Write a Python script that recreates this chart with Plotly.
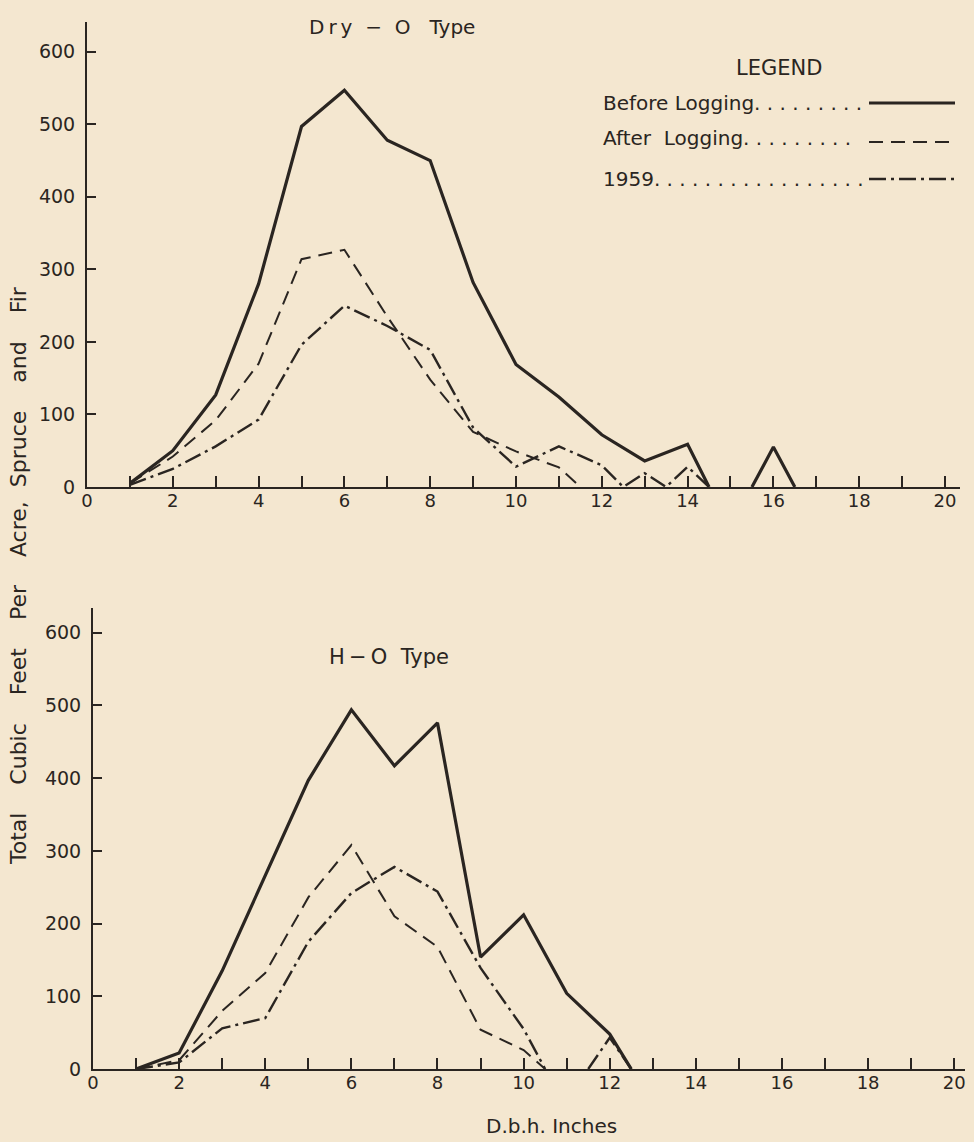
import plotly.graph_objects as go

# ---------------- Data ----------------
# Dry-O Type (top panel)
dry_before_x = [1, 2, 3, 4, 5, 6, 7, 8, 9, 10, 11, 12, 13, 14, 14.5, None, 15.5, 16, 16.5]
dry_before_y = [5, 50, 127, 280, 497, 547, 478, 450, 282, 169, 124, 72, 36, 59, 0, None, 0, 55, 0]
dry_after_x = [1, 2, 3, 4, 5, 6, 7, 8, 9, 10, 11, 11.5]
dry_after_y = [5, 42, 92, 170, 314, 327, 235, 148, 76, 49, 27, 0]
dry_1959_x = [1, 2, 3, 4, 5, 6, 7, 8, 9, 10, 11, 12, 12.5, 13, 13.5, 14, 14.5]
dry_1959_y = [3, 25, 56, 93, 196, 250, 222, 189, 82, 28, 56, 30, 0, 19, 0, 28, 0]

# H-O Type (bottom panel)
ho_before_x = [1, 2, 3, 4, 5, 6, 7, 8, 9, 10, 11, 12, 12.5]
ho_before_y = [0, 22, 135, 267, 397, 494, 417, 476, 154, 212, 104, 48, 0]
ho_after_x = [1, 2, 3, 4, 5, 6, 7, 8, 9, 10, 10.5]
ho_after_y = [0, 12, 80, 132, 236, 308, 210, 168, 54, 26, 0]
ho_1959_x = [1, 2, 3, 4, 5, 6, 7, 8, 9, 10, 10.5, None, 11.5, 12, 12.5]
ho_1959_y = [0, 9, 56, 70, 175, 242, 278, 244, 139, 55, 0, None, 0, 43, 0]

x_tickvals = [0, 2, 4, 6, 8, 10, 12, 14, 16, 18, 20]
y_tickvals = [0, 100, 200, 300, 400, 500, 600]

series_names = ["Before Logging", "After Logging", "1959"]

# ---------------- Style ----------------
INK = "#2a2521"
PAPER = "#f4e7d0"
FONT = "DejaVu Sans"
NB = "\u00a0"
TH = "\u2009"

styles = [
    dict(color=INK, width=3.2, dash="solid"),
    dict(color=INK, width=2.0, dash="14px,8px"),
    dict(color=INK, width=2.4, dash="17px,5px,3px,5px"),
]

fig = go.Figure()

top = [(dry_before_x, dry_before_y), (dry_after_x, dry_after_y), (dry_1959_x, dry_1959_y)]
bot = [(ho_before_x, ho_before_y), (ho_after_x, ho_after_y), (ho_1959_x, ho_1959_y)]

for (xs, ys), st, nm in zip(top, styles, series_names):
    fig.add_trace(go.Scatter(x=xs, y=ys, mode="lines", line=st, name=nm,
                             connectgaps=False, showlegend=False,
                             xaxis="x", yaxis="y"))
for (xs, ys), st, nm in zip(bot, styles, series_names):
    fig.add_trace(go.Scatter(x=xs, y=ys, mode="lines", line=st, name=nm,
                             connectgaps=False, showlegend=False,
                             xaxis="x2", yaxis="y2"))

W, H = 974, 1142


def px_x(p):
    return p / W


def px_y(p):
    return 1 - p / H


xcommon = dict(
    showgrid=False, zeroline=False, showline=True, linecolor=INK, linewidth=2,
    ticks="inside", ticklen=11, tickwidth=2, tickcolor=INK,
    tickvals=x_tickvals, ticktext=[str(v) for v in x_tickvals],
    minor=dict(dtick=1, tick0=0, ticks="inside", ticklen=11, tickwidth=2, tickcolor=INK),
    tickfont=dict(family=FONT, size=18, color=INK),
    ticklabelstandoff=-4,
    fixedrange=True, automargin=False,
)
ycommon = dict(
    showgrid=False, zeroline=False, showline=True, linecolor=INK, linewidth=2,
    ticks="inside", ticklen=9, tickwidth=2, tickcolor=INK,
    tickvals=y_tickvals, ticktext=[str(v) for v in y_tickvals],
    tickfont=dict(family=FONT, size=19, color=INK),
    ticklabelstandoff=6,
    fixedrange=True, automargin=False,
)

fig.update_layout(
    width=W, height=H,
    paper_bgcolor=PAPER, plot_bgcolor=PAPER,
    margin=dict(l=0, r=0, t=0, b=0, pad=0),
    showlegend=False,
    xaxis=dict(domain=[px_x(87), px_x(960)], range=[0, 20.35], anchor="y", **xcommon),
    yaxis=dict(domain=[px_y(487), px_y(22)], range=[0, 641], anchor="x", **ycommon),
    xaxis2=dict(domain=[px_x(93), px_x(965)], range=[0, 20.25], anchor="y2", **xcommon),
    yaxis2=dict(domain=[px_y(1069), px_y(608)], range=[0, 634], anchor="x2", **ycommon),
)


def text_ann(txt, x, y, size, xanchor="center", angle=0):
    return dict(text=txt, x=px_x(x), y=px_y(y), xref="paper", yref="paper",
                xanchor=xanchor, yanchor="middle", showarrow=False, textangle=angle,
                font=dict(family=FONT, size=size, color=INK))


ann = []
ann.append(text_ann(f"D{TH}r{TH}y{NB}{NB}−{NB}{NB}O{NB}{NB}{NB}Type", 392, 27, 20))
ann.append(text_ann(f"H{TH}−{TH}O{NB}{NB}Type", 389, 657, 21))
gap = NB * 4
ann.append(text_ann(gap.join(["Total", "Cubic", "Feet", "Per", f"Acre,{NB}{NB}Spruce", "and", "Fir"]),
                    18, 576, 22, angle=-90))
ann.append(text_ann("D.b.h. Inches", 551, 1126, 20))

# Legend (drawn like the original's lettered key)
ann.append(text_ann("LEGEND", 779, 68, 21))
legend_rows = [
    ("Before Logging" + ". " * 9, 103, 103),
    (f"After{NB}{NB}Logging" + ". " * 9, 138, 142),
    ("1959" + ". " * 17, 179, 179),
]
for (txt, ty, _) in legend_rows:
    ann.append(text_ann(txt.strip().replace(" ", NB), 601, ty, 20, xanchor="left"))

shapes = []
for st, (_, _, ly) in zip(styles, legend_rows):
    shapes.append(dict(type="line", xref="paper", yref="paper",
                       x0=px_x(869), x1=px_x(955), y0=px_y(ly), y1=px_y(ly),
                       line=dict(color=INK, width=st["width"], dash=st["dash"])))

fig.update_layout(annotations=ann, shapes=shapes)

fig.write_html("out.html", config={"displayModeBar": False},
               post_script="document.body.style.margin='0px';document.body.style.overflow='hidden';")
